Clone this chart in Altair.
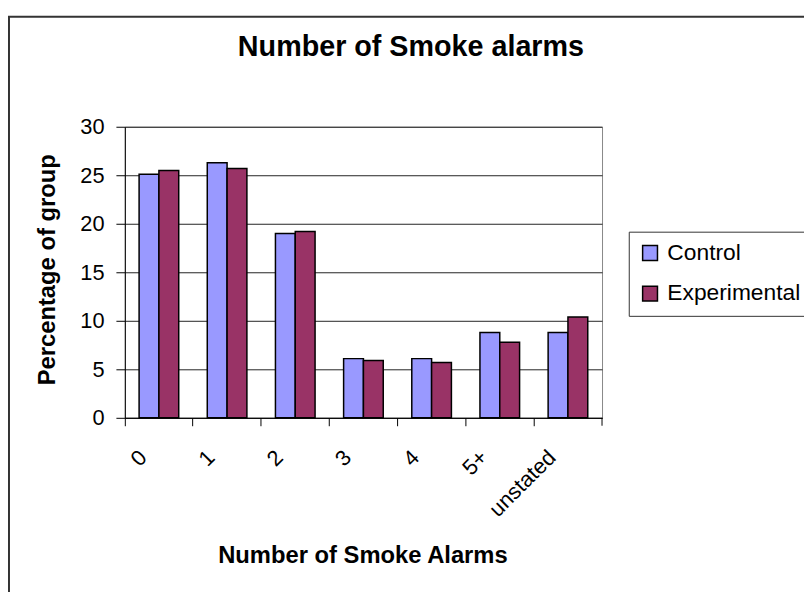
import altair as alt
import pandas as pd

categories = ["0", "1", "2", "3", "4", "5+", "unstated"]
control = [25.1, 26.3, 19.0, 6.1, 6.1, 8.8, 8.8]
experimental = [25.5, 25.7, 19.2, 5.9, 5.7, 7.8, 10.4]
series = ["Control", "Experimental"]
colors = ["#9999FF", "#993366"]
y_ticks = [0, 5, 10, 15, 20, 25, 30]

rows = []
for c, a, b in zip(categories, control, experimental):
    rows.append({"cat": c, "group": "Control", "value": a})
    rows.append({"cat": c, "group": "Experimental", "value": b})
df = pd.DataFrame(rows)

W, H = 482, 294
FONT = "Liberation Sans"

bars = alt.Chart(df).mark_bar(stroke="black", strokeWidth=1.5).encode(
    x=alt.X("cat:N", sort=categories,
            scale=alt.Scale(paddingInner=0, paddingOuter=0),
            axis=alt.Axis(title="Number of Smoke Alarms", bandPosition=0,
                          labelAngle=-45, labelAlign="right", labelBaseline="middle",
                          labelOffset=-16, labelPadding=28, tickSize=8,
                          tickColor="black", domainColor="black", grid=False,
                          labelFontSize=22, labelFont=FONT, labelColor="black",
                          titleFont=FONT, titleFontSize=24, titleFontWeight="bold",
                          titleColor="black", titleX=240, titleY=139,
                          titleBaseline="middle", titleAlign="center")),
    xOffset=alt.XOffset("group:N", sort=series,
                        scale=alt.Scale(paddingInner=0, paddingOuter=0.72)),
    y=alt.Y("value:Q", scale=alt.Scale(domain=[0, 30], nice=False),
            axis=alt.Axis(title="Percentage of group", values=y_ticks,
                          tickSize=9, tickColor="black", domainColor="black",
                          gridColor="#222", gridWidth=1,
                          labelFontSize=22, labelFont=FONT, labelColor="black",
                          labelPadding=12,
                          titleFont=FONT, titleFontSize=24, titleFontWeight="bold",
                          titleColor="black", titleX=-78, titleY=144,
                          titleBaseline="middle", titleAlign="center", titleAngle=-90)),
    color=alt.Color("group:N", sort=series,
                    scale=alt.Scale(domain=series, range=colors),
                    legend=alt.Legend(title=None, orient="none", legendX=509, legendY=106,
                                      symbolType="square", symbolSize=225,
                                      symbolStrokeColor="black", symbolStrokeWidth=1.5,
                                      labelFont=FONT, labelFontSize=23, labelColor="black",
                                      labelOffset=6, rowPadding=17, padding=10,
                                      strokeColor="#333", fillColor="white")),
)

one = pd.DataFrame({"k": [0]})
frame = alt.Chart(one).mark_rect(filled=False, stroke="#333", strokeWidth=2).encode(
    x=alt.value(-117), x2=alt.value(900), y=alt.value(-111), y2=alt.value(700)
)
end_tick = alt.Chart(one).mark_rule(color="black").encode(
    x=alt.value(W), y=alt.value(H), y2=alt.value(H + 8)
)

chart = alt.layer(frame, bars, end_tick).properties(
    width=W, height=H,
    title=alt.TitleParams("Number of Smoke alarms", font=FONT, fontSize=29,
                          fontWeight="bold", color="black", anchor="middle",
                          dx=48, dy=126, offset=56, baseline="alphabetic"),
    autosize=alt.AutoSizeParams(type="none"),
    padding={"left": 118, "top": 117, "right": 204, "bottom": 173},
).configure_view(stroke="#888", strokeWidth=1)

chart.save("out.html", embed_options={"renderer": "svg", "actions": False})
